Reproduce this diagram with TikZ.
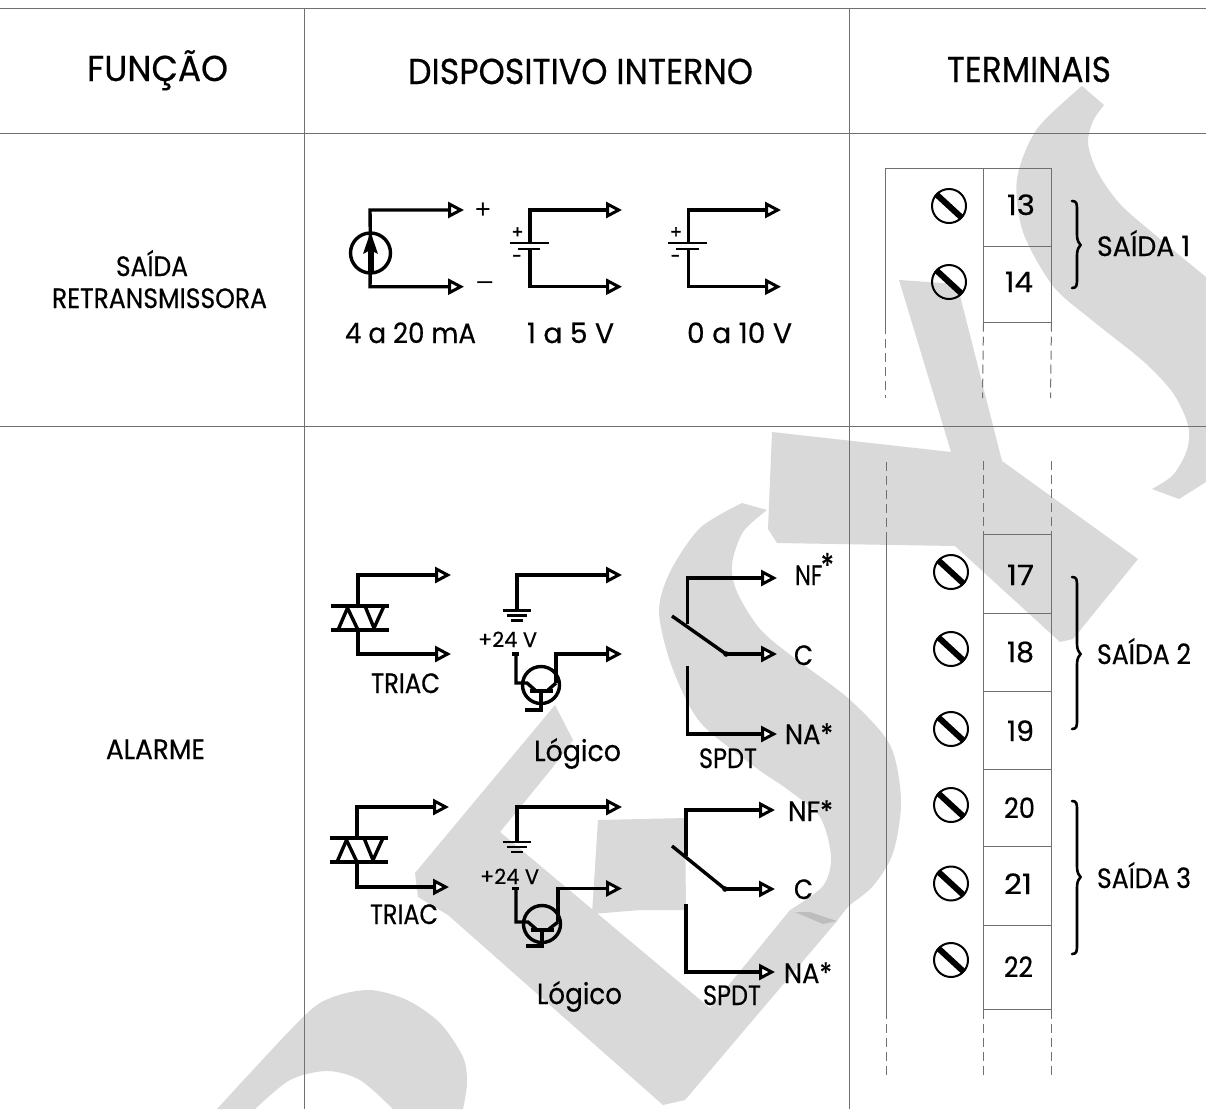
\documentclass[tikz,border=0pt]{standalone}
\usepackage{graphicx}
\usepackage{fontspec}
\setmainfont{Poppins}[FakeBold=0.5]
\newfontfamily\thinf{Liberation Sans}
\newfontfamily\heavyf{Poppins}[FakeBold=2.5]
\usetikzlibrary{arrows.meta}
\newsavebox\fitb
\newcommand\fitbox[3]{\sbox\fitb{\fontsize{#1}{#1}\selectfont #3}\pgfmathsetmacro\fitr{#2pt/\wd\fitb}\scalebox{\fitr}[1]{\usebox\fitb}}
% name, x centre, baseline y, size, width, text
\newcommand\lab[6]{\node[lbl] (#1) at (#2,#3) {\fitbox{#4}{#5}{#6}};}
\definecolor{wmgray}{HTML}{D9D9D9}
\definecolor{wmdark}{HTML}{BDBDBD}
\definecolor{gridgray}{HTML}{707070}
\tikzset{
 lbl/.style={anchor=base,inner sep=0pt,outer sep=0pt,text=black},
 wm/.style={fill=wmgray,draw=none},
 gridl/.style={draw=gridgray,line width=1pt},
 tdash/.style={draw=gridgray,line width=1pt,dash pattern=on 9pt off 5pt},
 wire/.style={draw=black,line width=3.4pt,line join=miter},
 outw/.style={wire,-{Triangle[length=16pt,width=16pt,line width=3pt,fill=white,sep=0pt]}},
 plate/.style={draw=black,line width=3.2pt},
 thinplate/.style={draw=black,line width=2.4pt},
 screwc/.style={draw=black,line width=2pt,fill=none},
 screwb/.style={draw=black,line width=6pt},
 tbr/.style={draw=black,line width=2.6pt,line cap=round},
}
\newcommand\screw[3]{%
 \coordinate (#1) at (#2,#3);
 \draw[screwc] (#1) circle (17pt);
 \coordinate (#1a) at (#2-13,#3-12);
 \coordinate (#1b) at (#2+13,#3+12);
 \draw[screwb] (#1a) -- (#1b);}
\newcommand\tbrace[4]{%
 \coordinate (#1t) at (1072,#2);
 \coordinate (#1c) at (1080.5,#3);
 \coordinate (#1b) at (1072,#4);
 \draw[tbr] (#1t) .. controls (1077,#2) and (1077,#2+3) .. (1077,#2+10) -- (1077,#3-10) .. controls (1077,#3-4) and (1079,#3-2) .. (#1c) .. controls (1079,#3+2) and (1077,#3+4) .. (1077,#3+10) -- (1077,#4-10) .. controls (1077,#4-3) and (1077,#4) .. (#1b);}
% triac: prefix, wire x, top y, plate1 y, plate2 y, bottom y, arrow tip x
\newcommand\triac[7]{%
 \coordinate (#1a) at (#2,#3); \coordinate (#1b) at (#7,#3);
 \coordinate (#1c) at (#2,#6); \coordinate (#1d) at (#7,#6);
 \coordinate (#1p) at (#2,#4); \coordinate (#1q) at (#2,#5);
 \draw[outw] (#1p) -- (#1a) -- (#1b);
 \draw[outw] (#1q) -- (#1c) -- (#1d);
 \draw[plate] (#2-27,#4) -- (#2+31,#4);
 \draw[plate] (#2-27,#5) -- (#2+31,#5);
 \draw[draw=black,line width=3.4pt,line join=miter] (#2-20,#5) -- (#2-10.5,#4+2) -- (#2,#5) -- cycle;
 \draw[draw=black,line width=3.4pt,line join=miter] (#2+7,#4) -- (#2+26,#4) -- (#2+16,#5-2) -- cycle;}
% logic: prefix, x, top y, ground y, wire2 y, trans centre x, centre y, right x, foot y
\newcommand\logic[9]{%
 \coordinate (#1a) at (#2,#3); \coordinate (#1b) at (622,#3);
 \coordinate (#1g) at (#2,#4);
 \draw[outw] (#1g) -- (#1a) -- (#1b);
 \draw[thinplate] (#2-14,#4) -- (#2+14,#4);
 \draw[thinplate] (#2-10,#4+5) -- (#2+10,#4+5);
 \draw[thinplate] (#2-6,#4+10) -- (#2+6,#4+10);
 \coordinate (#1t) at (#6,#7);
 \draw[wire] (#1t) circle (18.5pt);
 \coordinate (#1r) at (#8,#5); \coordinate (#1s) at (622,#5);
 \coordinate (#1u) at (#8,#7-2);
 \draw[outw] (#1u) -- (#1r) -- (#1s);
 \coordinate (#1v) at (#2-1,#5);
 \coordinate (#1w) at (#2-1,#7-2);
 \draw[wire] (#2-5,#5) -- (#2+2,#5);
 \draw[wire] (#1v) -- (#1w) -- (#6-14,#7-2) -- (#6-6,#7+5);
 \draw[wire] (#1u) -- (#6+7,#7+5);
 \draw[wire] (#6-11,#7+6) -- (#6+12,#7+6);
 \draw[wire] (#6,#7+6) -- (#6,#9) -- (#6-16,#9);}
% spdt: prefix, x, top y, sw x1,y1, sw x2, y2, lower y1, tip x
\newcommand\spdt[9]{%
 \coordinate (#1a) at (#2,#3);
 \coordinate (#1n) at (#9,#3);
 \coordinate (#1p) at (#2,#3+46);
 \draw[outw] (#1p) -- (#1a) -- (#1n);
 \coordinate (#1s) at (#4,#5); \coordinate (#1e) at (#6,#7);
 \draw[wire] (#1s) -- (#1e);
 \fill (#1e) circle (2.8pt);
 \coordinate (#1f) at (#9,#7);
 \draw[outw] (#1e) -- (#1f);
 \coordinate (#1l) at (#2,#8);
 \coordinate (#1k) at (#2,#8+68);
 \coordinate (#1m) at (#9,#8+68);
 \draw[outw] (#1l) -- (#1k) -- (#1m);}
\begin{document}
\begin{tikzpicture}[x=1pt,y=-1pt]
\useasboundingbox (0,0) rectangle (1206,1109);
\fill[white] (0,0) rectangle (1206,1109);
% ---- watermark ----
\fill[wm] plot[smooth] coordinates {(1082,86) (1037,129) (1017,179) (1023,232) (1053,286) (1093,321) (1143,361) (1173,393) (1188,425) (1187,450) (1173,475) (1152,489)} -- (1179,499) -- (1206,482) -- (1206,277) -- plot[smooth] coordinates {(1206,277) (1160,239) (1120,204) (1097,171) (1088,143) (1093,121) (1104,105)} -- cycle;
\fill[wm] (899,280) -- (957,284) -- (1002,461) -- (1138,559) -- (1073,639) -- (1060,642) -- (955,546) -- (777,543) -- (768,529) -- (772,432) -- (951,452) -- cycle;
\fill[wm] plot[smooth] coordinates {(742,503) (700,528) (670,572) (659,612) (672,667) (700,722) (755,767) (787,789) (820,817) (831,857) (823,886) (790,910)} -- (837,921) -- plot[smooth] coordinates {(837,921) (849,906) (873,886) (893,853) (901,801) (890,745) (849,699) (793,657) (760,629) (737,592) (732,564) (743,532) (767,510)} -- cycle;
\fill[wm] (555,705) -- (573,740) -- (553,767) -- (500,832) -- (710,1008) -- (790,910) -- (837,921) -- (685,1100) -- (663,1105) -- (448,915) -- (418,897) -- (415,873) -- cycle;
\fill[wm] (598,820) -- (685,818) -- (686,910) -- (640,910) -- (592,914) -- cycle;
\fill[wmdark] (795,912) -- (823,924) -- (837,921) -- (810,912) -- cycle;
\fill[wm] plot[smooth] coordinates {(217,1109) (303,1017) (333,997) (370,990) (407,1000) (440,1023) (463,1057) (467,1083) (463,1109)} -- (393,1109) -- plot[smooth] coordinates {(393,1109) (360,1080) (327,1071) (290,1080) (255,1109)} -- cycle;
% ---- table ----
\coordinate (h1l) at (0,8.5); \coordinate (h1r) at (1206,8.5);
\coordinate (h2l) at (0,133.5); \coordinate (h2r) at (1206,133.5);
\coordinate (h3l) at (0,426.5); \coordinate (h3r) at (1206,426.5);
\coordinate (v1t) at (304.5,8.5); \coordinate (v1b) at (304.5,1109);
\coordinate (v2t) at (849.5,8.5); \coordinate (v2b) at (849.5,1109);
\draw[gridl] (h1l) -- (h1r);
\draw[gridl] (h2l) -- (h2r);
\draw[gridl] (h3l) -- (h3r);
\draw[gridl] (v1t) -- (v1b);
\draw[gridl] (v2t) -- (v2b);
\lab{hfun}{157.5}{81}{36}{141}{FUNÇÃO}
\lab{hdis}{580.5}{84}{36}{345}{DISPOSITIVO INTERNO}
\lab{hter}{1029}{82}{36}{164}{TERMINAIS}
\lab{fsai}{152}{276}{28}{72}{SAÍDA}
\lab{fret}{159.5}{308}{28}{215}{RETRANSMISSORA}
\lab{fala}{155.5}{759}{28}{99}{ALARME}
% ---- current source ----
\coordinate (i1) at (370,210); \coordinate (i1t) at (464,210);
\coordinate (i2) at (370,286.7); \coordinate (i2t) at (464,286.7);
\coordinate (ic) at (370.5,253);
\draw[outw] (ic) -- (i1) -- (i1t);
\draw[outw] (ic) -- (i2) -- (i2t);
\draw[wire] (ic) circle (20pt);
\draw[draw=black,line width=6pt] (370.5,273) -- (370.5,248);
\fill (370.5,232) -- (378,254) -- (370.5,250) -- (363,254) -- cycle;
\node[lbl] (plus) at (483,218) {\fontsize{27}{27}\thinf +};
\node[lbl] (minus) at (485,289) {\fontsize{27}{27}\thinf –};
% ---- batteries ----
\coordinate (b1a) at (530,210); \coordinate (b1b) at (622,210);
\coordinate (b1c) at (530,286.7); \coordinate (b1d) at (622,286.7);
\coordinate (b1p) at (530,243); \coordinate (b1q) at (530,249);
\draw[outw] (b1p) -- (b1a) -- (b1b);
\draw[outw] (b1q) -- (b1c) -- (b1d);
\draw[plate,line width=2.6pt] (510,243) -- (549,243);
\draw[plate,line width=2.6pt] (518,249) -- (540,249);
\node[lbl] (b1plus) at (517.5,238) {\fontsize{17}{17}\heavyf +};
\node[lbl] (b1minus) at (517,262) {\fontsize{17}{17}\heavyf -};
\coordinate (b2a) at (688.5,210); \coordinate (b2b) at (781,210);
\coordinate (b2c) at (688.5,286.7); \coordinate (b2d) at (781,286.7);
\coordinate (b2p) at (688.5,243); \coordinate (b2q) at (688.5,249);
\draw[outw] (b2p) -- (b2a) -- (b2b);
\draw[outw] (b2q) -- (b2c) -- (b2d);
\draw[plate,line width=2.6pt] (668,243) -- (707,243);
\draw[plate,line width=2.6pt] (676,249) -- (699,249);
\node[lbl] (b2plus) at (676,238) {\fontsize{17}{17}\heavyf +};
\node[lbl] (b2minus) at (675.5,262) {\fontsize{17}{17}\heavyf -};
\lab{r1}{410.5}{343}{28}{131}{4 a 20 mA}
\lab{r2}{570.5}{343}{28}{87}{1 a 5 V}
\lab{r3}{739.5}{343}{28}{105}{0 a 10 V}
% ---- alarm circuits ----
\triac{ta}{358}{575}{606}{630}{654}{451}
\triac{tb}{357}{807}{838}{862}{887}{449}
\lab{tal}{405.5}{693}{28}{69}{TRIAC}
\lab{tbl}{404}{924}{28}{68}{TRIAC}
\logic{la}{517}{575}{610.5}{654}{541}{685}{556}{710}
\logic{lb}{517}{807}{842}{888.5}{542}{924}{558}{946}
\lab{lav}{507.5}{647}{21}{59}{+24 V}
\lab{lbv}{509.5}{884}{21}{59}{+24 V}
\lab{lal}{577.5}{761}{29}{87}{Lógico}
\lab{lgb}{579.5}{1004}{29}{85}{Lógico}
\spdt{sa}{687.5}{578}{672}{616}{726}{654}{666}{777}
\spdt{sb}{686}{810}{672}{846}{725}{889}{904}{775}
\lab{sal}{728}{768}{28}{58}{SPDT}
\lab{sbl}{732}{1005}{28}{58}{SPDT}
\lab{nfa}{814.5}{585}{28}{39}{NF\kern-2pt\raisebox{7pt}{\fontsize{34}{34}\selectfont *}}
\lab{ca}{803.5}{665}{28}{19}{C}
\lab{naa}{809}{744}{28}{48}{NA*}
\lab{nfb}{810.5}{821}{28}{45}{NF*}
\lab{cb}{803.5}{899}{28}{19}{C}
\lab{nab}{808}{983}{28}{48}{NA*}
% ---- terminals top ----
\coordinate (a1) at (885.5,168.5); \coordinate (a2) at (983.5,168.5); \coordinate (a3) at (1051.5,168.5);
\coordinate (a4) at (885.5,325); \coordinate (a5) at (983.5,322.5); \coordinate (a6) at (1051.5,322.5);
\coordinate (a7) at (885.5,398); \coordinate (a8) at (982.5,398); \coordinate (a9) at (1050.5,398);
\coordinate (m1) at (983.5,246.5); \coordinate (m2) at (1051.5,246.5);
\draw[gridl] (a4) -- (a1) -- (a3) -- (a6) -- (a5) -- (a2);
\draw[gridl] (m1) -- (m2);
\draw[tdash] (a4) -- (a7);
\draw[tdash] (a5) -- (a8);
\draw[tdash] (a6) -- (a9);
\screw{s13}{949}{206}
\screw{s14}{949}{282}
\lab{n13}{1021}{215}{28}{28}{13}
\lab{n14}{1019}{292}{28}{28}{14}
\tbrace{ba}{201}{245}{288}
\lab{sa1}{1143.5}{256}{28}{93}{SAÍDA 1}
% ---- terminals bottom ----
\coordinate (c1) at (886.5,462); \coordinate (c2) at (886.5,535); \coordinate (c3) at (886.5,1010); \coordinate (c4) at (886.5,1076);
\coordinate (d1) at (983.5,461); \coordinate (d2) at (983.5,534.5); \coordinate (d3) at (983.5,1009.5); \coordinate (d4) at (983.5,1076);
\coordinate (e1) at (1051.5,461); \coordinate (e2) at (1051.5,534.5); \coordinate (e3) at (1051.5,1009.5); \coordinate (e4) at (1051.5,1076);
\draw[tdash] (c1) -- (c2); \draw[gridl] (c2) -- (c3); \draw[tdash] (c3) -- (c4);
\draw[tdash] (d1) -- (d2); \draw[tdash] (d3) -- (d4);
\draw[tdash] (e1) -- (e2); \draw[tdash] (e3) -- (e4);
\draw[gridl] (d2) rectangle (e3);
\foreach \yy in {613.5,691.5,769.5,846.5,925.5} \draw[gridl] (983.5,\yy) -- (1051.5,\yy);
\screw{s17}{951}{572}
\screw{s18}{951}{649}
\screw{s19}{951}{729}
\screw{s20}{951}{805}
\screw{s21}{951}{883.5}
\screw{s22}{951}{960}
\lab{n17}{1020.5}{585}{28}{27}{17}
\lab{n18}{1020.5}{662}{28}{27}{18}
\lab{n19}{1020.5}{741}{28}{27}{19}
\lab{n20}{1019.5}{818}{28}{31}{20}
\lab{n21}{1018}{894}{28}{28}{21}
\lab{n22}{1018.5}{977}{28}{29}{22}
\tbrace{bb}{577}{654}{729}
\tbrace{bc}{801}{877}{954}
\lab{sa2}{1144}{664}{28}{94}{SAÍDA 2}
\lab{sa3}{1144}{888}{28}{94}{SAÍDA 3}
\end{tikzpicture}
\end{document}
